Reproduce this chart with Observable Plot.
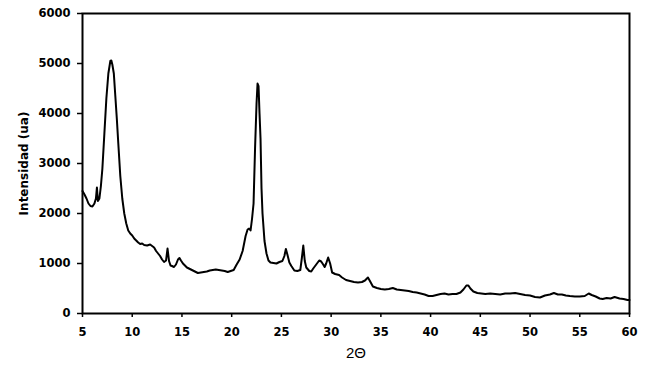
<!DOCTYPE html>
<html>
<head>
<meta charset="utf-8">
<script src="https://cdn.jsdelivr.net/npm/d3@7"></script>
<script src="https://cdn.jsdelivr.net/npm/@observablehq/plot@0.6"></script>
<style>
  body { margin: 0; background: #fff; }
  #chart svg { display: block; }
</style>
</head>
<body>
<div id="chart"></div>
<script>
const twoTheta = [5.0,5.2,5.4,5.6,5.8,6.0,6.2,6.35,6.45,6.55,6.7,6.85,7.0,7.2,7.4,7.6,7.8,7.9,8.0,8.15,8.3,8.45,8.6,8.8,9.0,9.2,9.4,9.6,9.8,10.0,10.2,10.4,10.6,10.8,11.0,11.2,11.5,11.8,12.0,12.2,12.4,12.6,12.8,13.0,13.2,13.4,13.55,13.7,13.85,14.0,14.2,14.4,14.6,14.75,14.9,15.1,15.3,15.5,15.7,16.0,16.3,16.6,16.9,17.2,17.5,17.8,18.1,18.4,18.7,19.0,19.3,19.6,19.9,20.2,20.5,20.8,21.1,21.4,21.6,21.75,21.9,22.05,22.2,22.35,22.5,22.6,22.7,22.8,22.9,23.0,23.1,23.3,23.5,23.7,23.9,24.2,24.5,24.8,25.1,25.3,25.45,25.6,25.8,26.0,26.3,26.6,26.9,27.05,27.2,27.35,27.5,27.8,28.0,28.2,28.5,28.8,29.0,29.2,29.35,29.5,29.7,29.9,30.1,30.4,30.8,31.1,31.5,31.9,32.3,32.7,33.1,33.4,33.7,33.9,34.2,34.6,35.0,35.4,35.8,36.2,36.6,37.0,37.4,37.8,38.2,38.6,39.0,39.4,39.8,40.2,40.6,41.0,41.4,41.8,42.2,42.6,43.0,43.3,43.6,43.8,44.0,44.3,44.7,45.1,45.5,46.0,46.5,47.0,47.5,48.0,48.5,49.0,49.5,50.0,50.5,51.0,51.5,52.0,52.4,52.8,53.2,53.6,54.0,54.5,55.0,55.5,55.9,56.2,56.6,57.0,57.3,57.7,58.1,58.5,59.0,59.4,59.8,60.0];
const intensity = [2450,2380,2300,2200,2150,2140,2200,2300,2520,2250,2300,2550,2900,3600,4300,4800,5050,5060,4980,4800,4350,3900,3400,2750,2300,2000,1800,1660,1600,1560,1500,1460,1420,1390,1400,1370,1360,1380,1350,1320,1250,1200,1150,1080,1030,1060,1300,1050,960,950,930,980,1080,1110,1060,1000,960,920,900,870,840,810,820,830,840,860,870,880,870,860,850,830,850,870,980,1080,1250,1550,1680,1700,1660,1900,2200,3300,4200,4600,4550,4000,3500,2500,2000,1450,1200,1060,1020,1010,1000,1030,1050,1150,1290,1180,1020,950,860,850,870,1100,1360,1050,920,850,840,900,980,1060,1040,980,930,1000,1120,1000,820,790,770,720,670,650,630,620,630,660,720,650,540,510,490,480,490,510,480,470,460,450,430,420,400,380,350,350,370,390,400,380,390,390,420,480,560,560,500,440,410,400,390,400,390,380,400,400,410,390,370,360,330,320,360,380,410,380,380,360,350,340,340,350,400,370,340,300,290,310,300,330,300,290,270,270];
const xTicks = [5,10,15,20,25,30,35,40,45,50,55,60];
const yTicks = [0,1000,2000,3000,4000,5000,6000];
const xLabel = "2\u0398";
const yLabel = "Intensidad (ua)";

const data = twoTheta.map((t, i) => ({t, v: intensity[i]}));

const chart = Plot.plot({
  width: 650,
  height: 377,
  marginLeft: 82,
  marginRight: 21,
  marginTop: 13,
  marginBottom: 64,
  style: {fontFamily: "DejaVu Sans", fontWeight: "bold", fontSize: "11.5px", color: "#000", background: "#fff"},
  x: {domain: [5, 60]},
  y: {domain: [0, 6000]},
  marks: [
    Plot.frame({stroke: "#000", strokeWidth: 2}),
    Plot.axisX({ticks: xTicks, tickFormat: d => String(d), tickSize: 4, tickPadding: 10, strokeWidth: 1.5, fill: "#000", label: null}),
    Plot.axisY({ticks: yTicks, tickFormat: d => String(d), tickSize: 5, tickPadding: 7, strokeWidth: 1.5, fill: "#000", label: null}),
    Plot.text([xLabel], {frameAnchor: "bottom", dy: 40, text: d => d, fontSize: 15, fontWeight: "normal", fontFamily: "Liberation Sans", fill: "#000", textAnchor: "middle", lineAnchor: "middle"}),
    Plot.text([yLabel], {frameAnchor: "left", dx: -58, text: d => d, rotate: -90, fontSize: 12, fontWeight: "bold", fontFamily: "DejaVu Sans", fill: "#000", textAnchor: "middle", lineAnchor: "middle"}),
    Plot.line(data, {x: "t", y: "v", stroke: "#000", strokeWidth: 2})
  ]
});
document.getElementById("chart").appendChild(chart);
</script>
</body>
</html>
